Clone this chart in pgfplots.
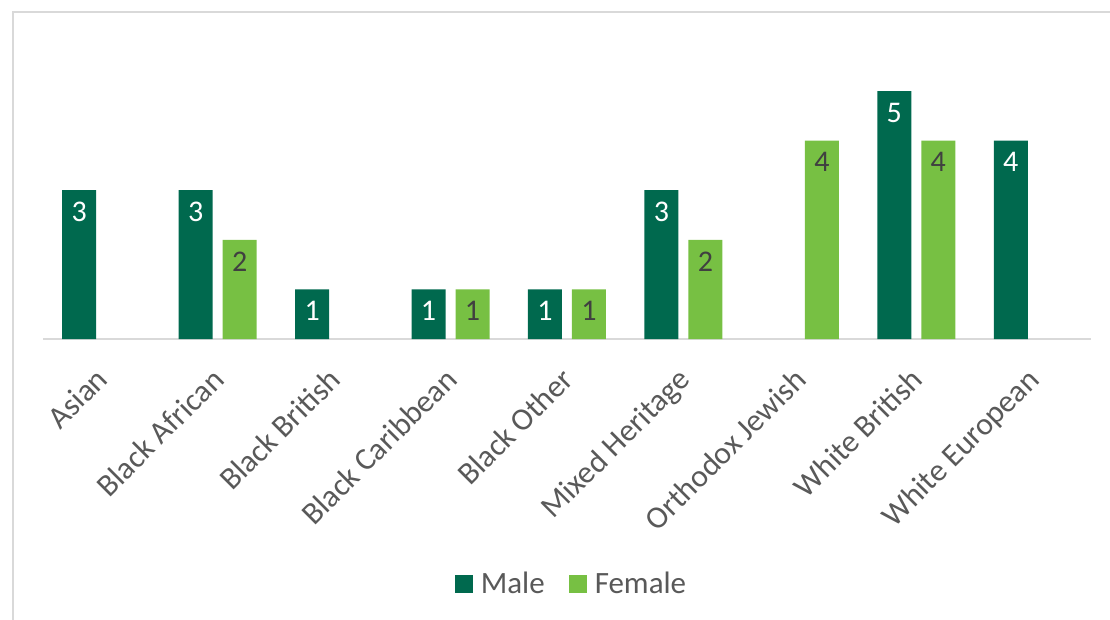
\documentclass[border=0pt]{standalone}
\usepackage{pgfplots}
\pgfplotsset{compat=1.18}
\usepackage{fontspec}
\setmainfont{Carlito}
\definecolor{male}{HTML}{00694E}
\definecolor{female}{HTML}{77C043}
\definecolor{ticktext}{HTML}{595959}
\definecolor{labtext}{HTML}{404040}
\definecolor{bord}{HTML}{D9D9D9}
\begin{document}
\begin{tikzpicture}
\useasboundingbox (0,0) rectangle (1110pt,619pt);
\begin{scope}
\clip (0,0) rectangle (1110pt,619pt);
\draw[bord, line width=2pt] (13pt,-20pt) -- (13pt,607pt) -- (1130pt,607pt);
\end{scope}
\begin{axis}[
  at={(43pt,280pt)}, anchor=south west,
  scale only axis, width=1048pt, height=297.6pt,
  xmin=-0.5, xmax=8.5, ymin=0, ymax=6,
  /pgf/number format/assume math mode=true,
  axis x line=bottom, axis y line=none,
  x axis line style={-, draw=bord, line width=1.5pt},
  ytick=\empty,
  xtick={0,...,8},
  xticklabels={Asian, Black African, Black British, Black Caribbean, Black Other, Mixed Heritage, Orthodox Jewish, White British, White European},
  xtick style={draw=none},
  xticklabel style={rotate=45, anchor=north east, inner sep=0pt, xshift=-21pt, yshift=-11pt, font=\fontsize{31.5}{36}\selectfont, text=ticktext},
  ybar, bar width=34pt,
  legend style={at={(0.5043,-0.823)}, anchor=center, draw=none, legend columns=2,
    font=\fontsize{31}{36}\selectfont, text=ticktext,
    /tikz/every odd column/.append style={column sep=6pt},
    /tikz/every even column/.append style={column sep=22pt}},
  legend image code/.code={\fill[#1] (0pt,-9pt) rectangle (18pt,9pt);},
]
\addplot[fill=male, draw=none, bar shift=-22pt, nodes near coords,
  every node near coord/.append style={anchor=north, inner sep=0pt, yshift=-11.7pt, text=white, font=\fontsize{30}{36}\selectfont}]
  coordinates {(0,3) (1,3) (2,1) (3,1) (4,1) (5,3) (7,5) (8,4)};
\addlegendentry{Male}
\addplot[fill=female, draw=none, bar shift=22pt, nodes near coords,
  every node near coord/.append style={anchor=north, inner sep=0pt, yshift=-11.7pt, text=labtext, font=\fontsize{30}{36}\selectfont}]
  coordinates {(1,2) (3,1) (4,1) (5,2) (6,4) (7,4)};
\addlegendentry{Female}
\end{axis}
\end{tikzpicture}
\end{document}
